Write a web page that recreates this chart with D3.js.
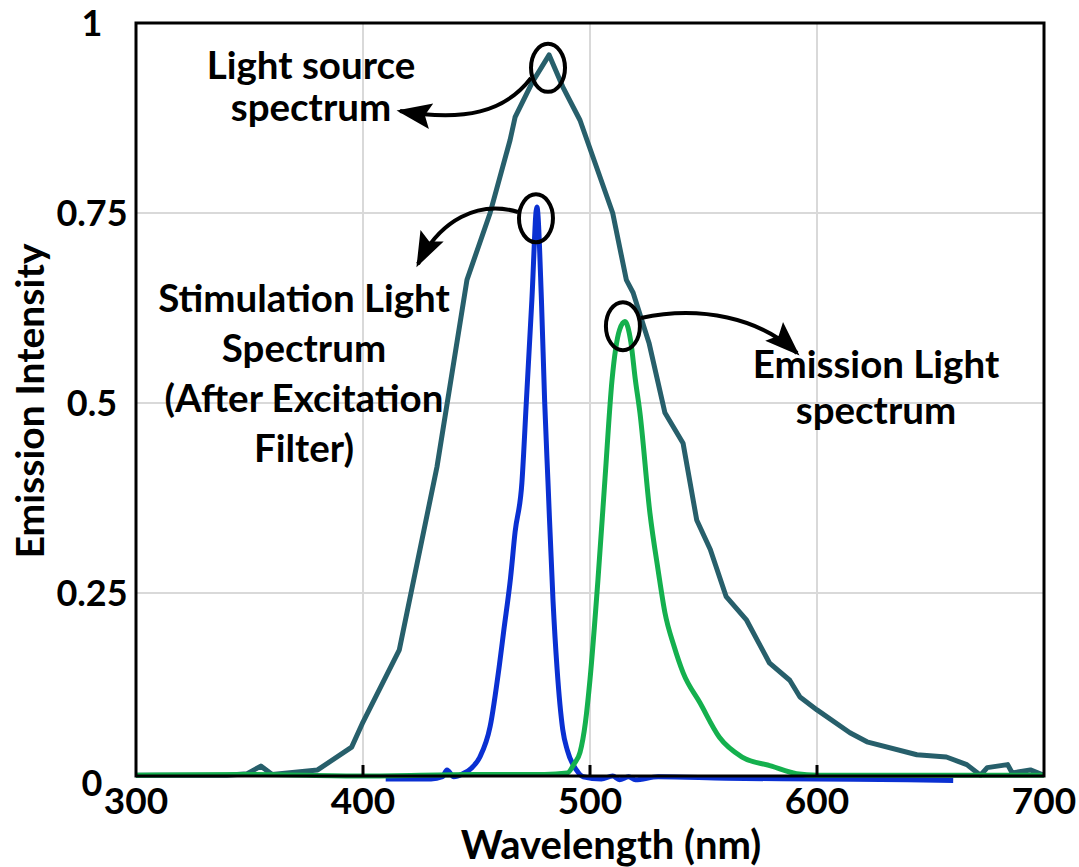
<!DOCTYPE html>
<html><head><meta charset="utf-8">
<script src="https://cdn.jsdelivr.net/npm/d3@7"></script>
<style>html,body{margin:0;padding:0;background:#fff;} text{font-family:Lato,"Open Sans",sans-serif;font-weight:700;fill:#000;}</style>
</head><body><svg id="c" width="1079" height="867"></svg>
<script>
// ---- data ----
const sourceWl  = [300,320,340,349,355,360,380,395,400,416,432.6,445.8,456,464.8,467,474.4,482,488,495.6,510,516,519,526,533,541,547,553,560,569,579,588,592.5,600,614.5,622,644,657,666,672,675,684,686,694,700];
const sourceVal = [0.01,0.01,0.01,0.012,0.022,0.011,0.017,0.047,0.08,0.175,0.416,0.662,0.75,0.846,0.876,0.921,0.958,0.916,0.872,0.75,0.662,0.645,0.579,0.487,0.447,0.346,0.307,0.245,0.214,0.158,0.135,0.113,0.096,0.066,0.054,0.037,0.034,0.024,0.01,0.02,0.024,0.013,0.017,0.01];
const stimWl  = [410,430,435,437,440,444,448,451.5,456,460,462,465,467,470,472,474.4,476.6,478.6,480,481.5,483.7,485.5,488,490,494,497,505,510,513,517,520,530,560,600,640,660];
const stimVal = [0.005,0.005,0.008,0.017,0.008,0.012,0.02,0.034,0.074,0.153,0.2,0.27,0.33,0.395,0.504,0.636,0.758,0.636,0.504,0.395,0.24,0.15,0.07,0.043,0.017,0.008,0.005,0.009,0.004,0.008,0.004,0.008,0.006,0.005,0.004,0.003];
const emisWl  = [300,350,400,450,480,490,493,495.6,498,500,503.5,506.6,509.7,513,515.4,518,520,522,526.4,530,533,537,541,548.5,557,567,580,591,600,650,700];
const emisVal = [0.01,0.011,0.009,0.011,0.011,0.013,0.025,0.04,0.08,0.136,0.267,0.4,0.53,0.596,0.607,0.58,0.53,0.487,0.355,0.28,0.224,0.18,0.145,0.105,0.06,0.034,0.022,0.012,0.01,0.01,0.01];
const xTicks = [300,400,500,600,700];
const yTicks = [0,0.25,0.5,0.75,1];
const yTickLabels = ["0","0.25","0.5","0.75","1"];
const xTitle = "Wavelength (nm)";
const yTitle = "Emission Intensity";

const svg = d3.select("#c");
const x = d3.scaleLinear().domain([300,700]).range([136,1044]);
const y = d3.scaleLinear().domain([0.009,1]).range([776,23]);

// grid
svg.append("g").selectAll("line").data([400,500,600]).join("line")
  .attr("x1",d=>x(d)).attr("x2",d=>x(d)).attr("y1",y(1)).attr("y2",y(0.009))
  .attr("stroke","#d9d9d9").attr("stroke-width",2);
svg.append("g").selectAll("line").data([0.25,0.5,0.75]).join("line")
  .attr("x1",x(300)).attr("x2",x(700)).attr("y1",d=>y(d)).attr("y2",d=>y(d))
  .attr("stroke","#d9d9d9").attr("stroke-width",2);

// series
const mk = (wl,val)=>wl.map((w,i)=>[w,val[i]]);
const lineLin = d3.line().x(d=>x(d[0])).y(d=>y(d[1]));
const lineSm = d3.line().x(d=>x(d[0])).y(d=>y(d[1])).curve(d3.curveMonotoneX);
svg.append("path").datum(mk(sourceWl,sourceVal)).attr("d",lineLin)
  .attr("fill","none").attr("stroke","#275f6b").attr("stroke-width",5).attr("stroke-linejoin","round");
svg.append("path").datum(mk(stimWl,stimVal)).attr("d",lineSm)
  .attr("fill","none").attr("stroke","#0a30d2").attr("stroke-width",5).attr("stroke-linejoin","round");
svg.append("path").datum(mk(emisWl,emisVal)).attr("d",lineSm)
  .attr("fill","none").attr("stroke","#14b04e").attr("stroke-width",5).attr("stroke-linejoin","round");

// frame
svg.append("rect").attr("x",x(300)).attr("y",y(1)).attr("width",x(700)-x(300)).attr("height",y(0.009)-y(1))
  .attr("fill","none").attr("stroke","#000").attr("stroke-width",3);
// bottom ticks
svg.append("g").selectAll("line").data([400,500,600]).join("line")
  .attr("x1",d=>x(d)).attr("x2",d=>x(d)).attr("y1",y(0.009)).attr("y2",y(0.009)-11)
  .attr("stroke","#000").attr("stroke-width",3);

// tick labels
svg.append("g").selectAll("text").data(yTicks).join("text")
  .attr("x",92).attr("y",d=>y(d)).attr("dy","0.36em").attr("text-anchor","middle")
  .style("font-size","36px").text((d,i)=>yTickLabels[i]);
svg.append("g").selectAll("text").data(xTicks).join("text")
  .attr("x",d=>x(d)).attr("y",801).attr("dy","0.36em").attr("text-anchor","middle")
  .style("font-size","37px").text(d=>d);
svg.append("text").attr("x",611).attr("y",859).attr("text-anchor","middle").style("font-size","40px").text(xTitle);
svg.append("text").attr("transform","translate(44,401) rotate(-90)").attr("text-anchor","middle").style("font-size","39px").text(yTitle);

// annotations
const notes = [
  {lines:["Light source","spectrum"], cx:311, y0:79, dy:42},
  {lines:["Stimulation Light","Spectrum","(After Excitation","Filter)"], cx:304, y0:312, dy:50},
  {lines:["Emission Light","spectrum"], cx:876, y0:378, dy:46}
];
notes.forEach(n=>{
  n.lines.forEach((t,i)=>svg.append("text").attr("x",n.cx).attr("y",n.y0+i*n.dy)
    .attr("text-anchor","middle").style("font-size","38.5px").text(t));
});

const defs = svg.append("defs");
defs.append("marker").attr("id","ah").attr("viewBox","0 0 10 8").attr("refX",9).attr("refY",4)
  .attr("markerWidth",36).attr("markerHeight",28).attr("markerUnits","userSpaceOnUse").attr("orient","auto")
  .append("path").attr("d","M0,0.3 L10,4 L0,7.7 L1.8,4 Z").attr("fill","#000");

// peak markers (ellipses) at data peaks
const peaks = [[481.5,0.941],[476.2,0.743],[514.5,0.601]];
svg.append("g").selectAll("ellipse").data(peaks).join("ellipse")
  .attr("cx",d=>x(d[0])).attr("cy",d=>y(d[1])).attr("rx",17).attr("ry",24)
  .attr("fill","none").attr("stroke","#000").attr("stroke-width",4);

const arrows = [
  "M531,78 C505,112 465,122 400,111",
  "M518,212 C478,200 440,220 418,264",
  "M641,318 C700,305 760,318 797,353"
];
svg.append("g").selectAll("path").data(arrows).join("path").attr("d",d=>d)
  .attr("fill","none").attr("stroke","#000").attr("stroke-width",4).attr("marker-end","url(#ah)");
</script></body></html>
